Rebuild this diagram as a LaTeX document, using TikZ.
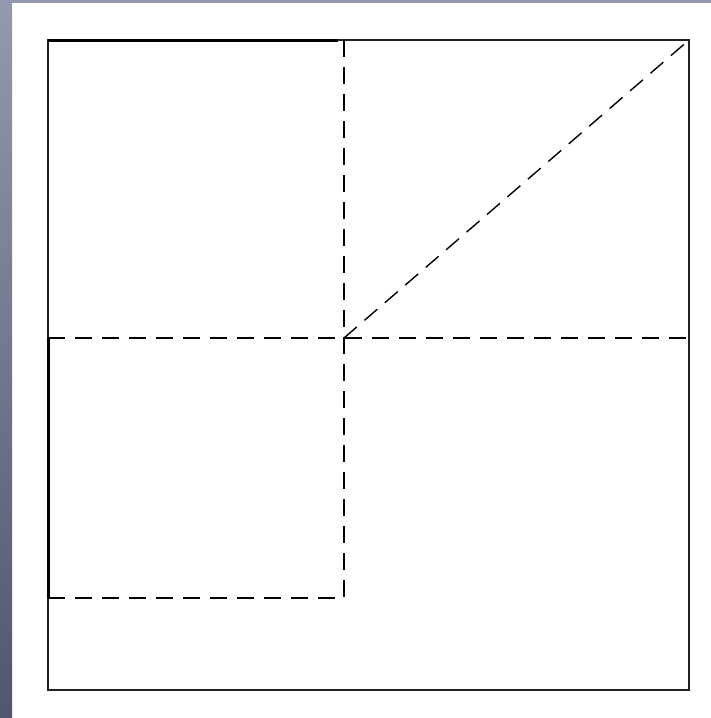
\documentclass[tikz,border=0pt]{standalone}
\usetikzlibrary{calc}
\definecolor{slidetop}{HTML}{9499AB}
\definecolor{slidebottom}{HTML}{4F566E}
\definecolor{inkline}{HTML}{222222}
\begin{document}
\begin{tikzpicture}[x=1pt, y=-1pt,
    frameline/.style={inkline, line width=1.4pt},
    heavyline/.style={black, line width=3pt},
    guideline/.style={black, line width=1.4pt, dash pattern=on 17pt off 10pt}]
  \useasboundingbox (0,0) rectangle (711,718);
  % slide background
  \shade[top color=slidetop, bottom color=slidebottom] (0,0) rectangle (12,718);
  \fill[slidetop] (12,0) rectangle (711,3);
  % frame corners and guide points
  \coordinate (nw) at (48,40);
  \coordinate (ne) at (689,40);
  \coordinate (se) at (689,690);
  \coordinate (sw) at (48,690);
  \coordinate (centre) at (344,338);
  \coordinate (topmid) at (344,40);
  \coordinate (topcut) at (338,40);
  \coordinate (leftmid) at (48,338);
  \coordinate (rightmid) at (689,338);
  \coordinate (lowmid) at (344,598);
  \coordinate (lowleft) at (48,598);
  \draw[frameline] (nw) rectangle (se);
  \draw[guideline] (topmid) -- (lowmid);
  \draw[guideline] (leftmid) -- (rightmid);
  \draw[guideline] (lowleft) -- (lowmid);
  \draw[guideline] (centre) -- (ne);
  \draw[heavyline] (nw) -- (topcut);
  \draw[heavyline] (leftmid) -- (lowleft);
\end{tikzpicture}
\end{document}
